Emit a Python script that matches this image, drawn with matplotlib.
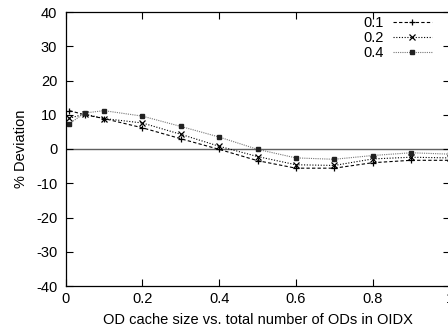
import matplotlib
matplotlib.use("Agg")
import matplotlib.pyplot as plt

plt.rcParams['font.family'] = ['Liberation Sans', 'DejaVu Sans']
plt.rcParams['axes.unicode_minus'] = False

x_values = [0.01, 0.05, 0.1, 0.2, 0.3, 0.4, 0.5, 0.6, 0.7, 0.8, 0.9, 1.0]
series_labels = ["0.1", "0.2", "0.4"]
dev_01 = [11.2, 10.0, 8.9, 6.2, 3.0, -0.1, -3.4, -5.6, -5.6, -4.0, -3.3, -3.3]
dev_02 = [9.0, 10.2, 8.9, 7.6, 4.3, 0.8, -2.2, -4.6, -4.8, -2.9, -2.4, -2.6]
dev_04 = [7.4, 10.5, 11.2, 9.6, 6.6, 3.5, -0.1, -2.6, -3.0, -1.9, -1.1, -1.5]
x_ticks = [0, 0.2, 0.4, 0.6, 0.8, 1]
x_ticklabels = ["0", "0.2", "0.4", "0.6", "0.8", "1"]
y_ticks = [-40, -30, -20, -10, 0, 10, 20, 30, 40]

W, H = 448, 331
fig = plt.figure(figsize=(W / 100, H / 100), dpi=100)
left, right, top, bottom = 65.5, 449.5, 12, 286
ax = fig.add_axes([left / W, 1 - bottom / H, (right - left) / W, (bottom - top) / H])

ax.axhline(0, color='#606060', lw=1.0, zorder=1)

ax.plot(x_values, dev_01, color='black', lw=0.8, linestyle=(0, (3, 2)),
        marker='+', markersize=5, markeredgewidth=0.9, label=series_labels[0])
ax.plot(x_values, dev_02, color='black', lw=0.8, linestyle=(0, (1, 1.5)),
        marker='x', markersize=4, markeredgewidth=0.9, label=series_labels[1])
ax.plot(x_values, dev_04, color='#777777', lw=0.8, linestyle=(0, (1, 1)),
        marker='s', markersize=3.2, markerfacecolor='#222222', markeredgecolor='#222222',
        label=series_labels[2])

ax.set_xlim(0, 1)
ax.set_ylim(-40, 40)
ax.set_xticks(x_ticks)
ax.set_xticklabels(x_ticklabels)
ax.set_yticks(y_ticks)
ax.tick_params(direction='in', length=5, width=0.8, top=True, right=True,
               labelsize=10.5)
ax.tick_params(axis='x', pad=4)
ax.tick_params(axis='y', pad=6)
for s in ax.spines.values():
    s.set_linewidth(0.9)
    s.set_color('black')

ax.set_xlabel("OD cache size vs. total number of ODs in OIDX", fontsize=10.5, labelpad=5)
ax.set_ylabel("% Deviation", fontsize=10.5, labelpad=6)

leg = ax.legend(loc='upper right', markerfirst=False, frameon=False, fontsize=10.5,
                handlelength=2.7, handletextpad=0.6, labelspacing=0.05,
                borderaxespad=0.0, bbox_to_anchor=(0.97, 1.005))

fig.savefig("out.png", dpi=100)
